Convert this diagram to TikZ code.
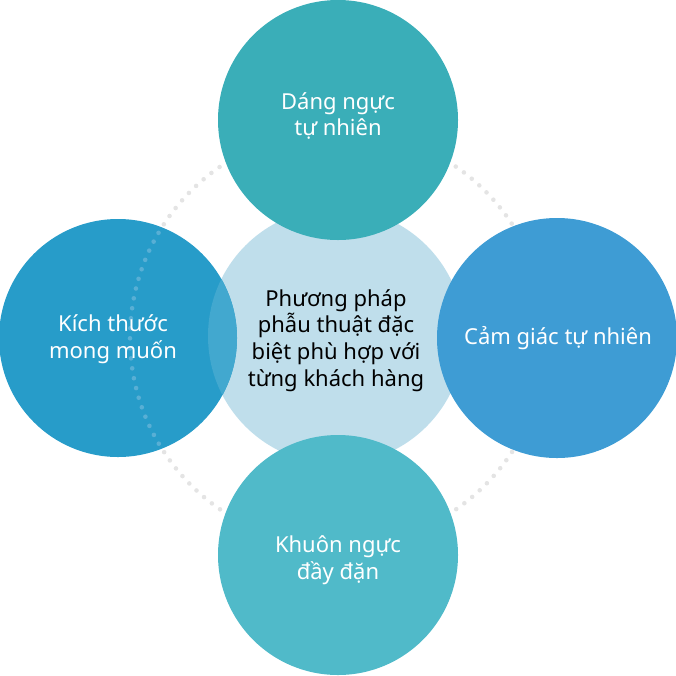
\documentclass[tikz,border=0pt]{standalone}
\usepackage{fontspec}
\setmainfont{Noto Sans}
\definecolor{ctop}{HTML}{3AAEB8}
\definecolor{cleft}{HTML}{279CC9}
\definecolor{cright}{HTML}{3E9CD4}
\definecolor{cbottom}{HTML}{50BAC9}
\definecolor{ccenter}{HTML}{BFDEEB}
\definecolor{coverlap}{HTML}{42A8CF}
\definecolor{cdots}{HTML}{E4E4E4}
\definecolor{cdotsin}{HTML}{58AFD5}
\tikzset{
  bubble/.style={circle, inner sep=0pt},
  lbl/.style={align=center, text=white, inner sep=0pt, font=\fontsize{22}{26.7}\selectfont},
  dotring/.style={line width=4.6pt, line cap=round, dash pattern=on 0pt off 10.05pt},
}
\begin{document}
\begin{tikzpicture}[x=1pt,y=-1pt]
\useasboundingbox (0,0) rectangle (676,675);
\coordinate (o) at (338,338);
\draw[cdots, dotring] (o) circle (208);
\node[bubble, fill=ccenter, minimum size=256pt] (c) at (336,336) {};
\node[bubble, fill=cleft, minimum size=238pt] (l) at (118,338) {};
\begin{scope}
  \clip (118,338) circle (119);
  \fill[coverlap] (336,336) circle (128);
  \draw[cdotsin, dotring] (o) circle (208);
\end{scope}
\node[bubble, fill=ctop, minimum size=240pt] (t) at (338,120) {};
\node[bubble, fill=cright, minimum size=240pt] (r) at (557,338) {};
\node[bubble, fill=cbottom, minimum size=240pt] (b) at (338,555) {};
\node[lbl, text=black] (ct) at (336,340.5) {Phương pháp\\phẫu thuật đặc\\biệt phù hợp với\\từng khách hàng};
\node[lbl] (lt) at (113,339) {Kích thước\\mong muốn};
\node[lbl] (tt) at (338,116) {Dáng ngực\\ tự nhiên};
\node[lbl] (rt) at (558,338) {Cảm giác tự nhiên};
\node[lbl] (bt) at (338,560) {Khuôn ngực\\ đầy đặn};
\end{tikzpicture}
\end{document}
